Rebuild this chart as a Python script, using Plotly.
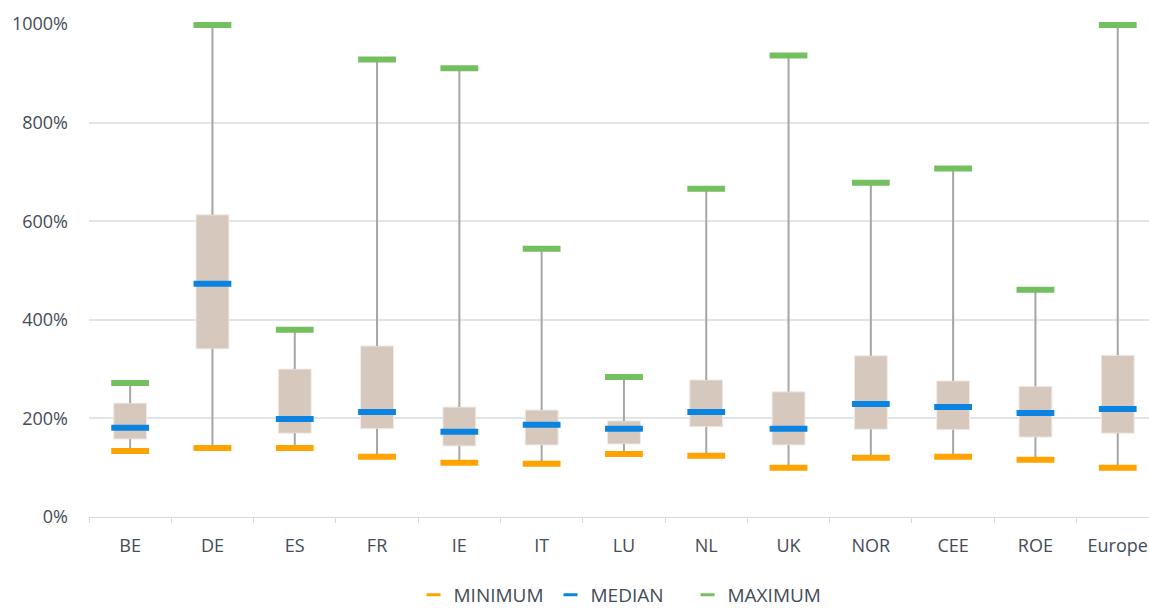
import numpy as np
import plotly.graph_objects as go

categories = ["BE", "DE", "ES", "FR", "IE", "IT", "LU", "NL", "UK", "NOR", "CEE", "ROE", "Europe"]
minimum = [134, 140, 140, 122, 110, 108, 128, 124, 100, 120, 122, 116, 100]
q1 = [158, 341, 170, 179, 144, 146, 148, 183, 146, 178, 177, 162, 170]
median = [181, 473, 199, 213, 173, 187, 179, 213, 179, 229, 223, 211, 219]
q3 = [231, 613, 300, 347, 223, 217, 195, 278, 254, 327, 276, 265, 328]
maximum = [272, 998, 380, 928, 910, 544, 284, 666, 936, 678, 707, 461, 998]
y_ticks = [0, 200, 400, 600, 800, 1000]
y_tick_labels = ["0%", "200%", "400%", "600%", "800%", "1000%"]

q1a = np.array(q1)
q3a = np.array(q3)

FONT = "Open Sans"
TXT = "#444c57"

wx, wy = [], []
for c, lo, a, b, hi in zip(categories, minimum, q1, q3, maximum):
    wx += [c, c, None, c, c, None]
    wy += [lo, a, None, b, hi, None]

fig = go.Figure()
fig.add_trace(go.Bar(
    x=categories, y=q3a - q1a, base=q1, width=0.4,
    marker=dict(color="#d7c8bd", line=dict(color="#f2ebe7", width=1)),
    showlegend=False, hoverinfo="skip"))
fig.add_trace(go.Scatter(
    x=wx, y=wy, mode="lines", line=dict(color="#a6a6a6", width=2),
    showlegend=False, hoverinfo="skip", cliponaxis=False))

series = [("MINIMUM", minimum, "#ffa300"),
          ("MEDIAN", median, "#0a84e0"),
          ("MAXIMUM", maximum, "#74bf5f")]
for name, vals, col in series:
    fig.add_trace(go.Scatter(
        x=categories, y=vals, mode="markers", name=name, showlegend=False,
        marker=dict(symbol="line-ew", size=27, line=dict(color=col, width=6)),
        cliponaxis=False))
for name, vals, col in series:
    fig.add_trace(go.Scatter(
        x=[None], y=[None], mode="markers", name=name, showlegend=True,
        marker=dict(symbol="line-ew", size=10, line=dict(color=col, width=3))))

fig.update_layout(
    width=1149, height=608,
    margin=dict(l=89, r=0, t=24, b=91, autoexpand=False),
    plot_bgcolor="white", paper_bgcolor="white",
    font=dict(family=FONT, size=18, color=TXT),
    barmode="overlay",
    legend=dict(orientation="h", x=0.5, xanchor="center", y=-0.1968, yanchor="bottom",
                font=dict(size=19, color=TXT), itemwidth=30, entrywidth=92,
                traceorder="normal", borderwidth=0),
    xaxis=dict(range=[-0.5, 12.38], showgrid=False, showline=True, linecolor="#d9d9d9",
               linewidth=1, ticks="outside", tickson="boundaries", ticklen=5,
               tickcolor="#d9d9d9", ticklabelstandoff=12,
               tickfont=dict(size=18, color=TXT)),
    yaxis=dict(range=[0, 1000], tickvals=y_ticks, ticktext=y_tick_labels,
               showgrid=True, gridcolor="#e1e4e8", gridwidth=1.5, zeroline=False,
               showline=False, ticks="", ticklabelstandoff=20,
               tickfont=dict(size=18, color=TXT)),
)

fig.write_html("out.html", config={"displayModeBar": False},
               post_script="document.body.style.margin='0';")
